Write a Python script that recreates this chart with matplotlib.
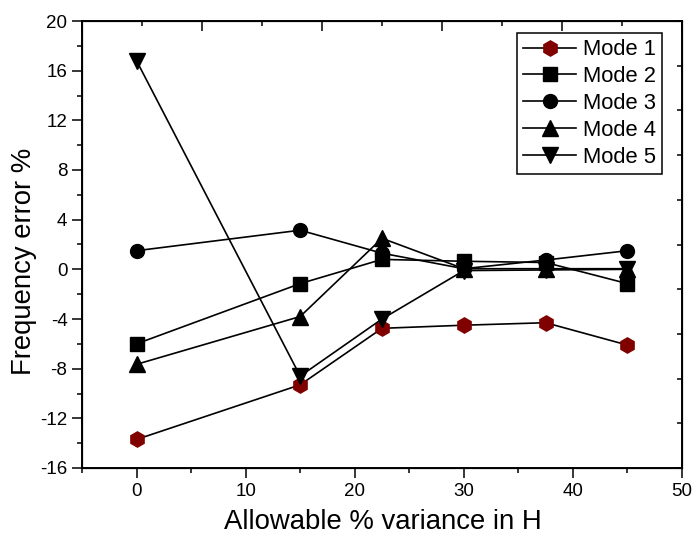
import matplotlib
matplotlib.use("Agg")
import matplotlib.pyplot as plt
from matplotlib.ticker import MultipleLocator

plt.rcParams['font.family'] = ['Liberation Sans', 'DejaVu Sans']
plt.rcParams['axes.unicode_minus'] = False

x = [0, 15, 22.5, 30, 37.5, 45]
mode1 = [-13.7, -9.3, -4.75, -4.5, -4.3, -6.1]
mode2 = [-6.0, -1.15, 0.8, 0.65, 0.55, -1.15]
mode3 = [1.5, 3.15, 1.3, 0.05, 0.75, 1.5]
mode4 = [-7.65, -3.8, 2.5, 0.05, 0.05, 0.05]
mode5 = [16.8, -8.6, -4.0, -0.1, -0.05, 0.0]
labels = ["Mode 1", "Mode 2", "Mode 3", "Mode 4", "Mode 5"]

fig = plt.figure(figsize=(6.96, 5.36), dpi=100)
ax = fig.add_axes([82/696, 1-468/536, 600/696, 447/536])

series = [mode1, mode2, mode3, mode4, mode5]
markers = ['h', 's', 'o', '^', 'v']
colors = ['#800000', 'black', 'black', 'black', 'black']
sizes = [11, 9.5, 10, 11, 11]
for ys, m, c, s, lab in zip(series, markers, colors, sizes, labels):
    ax.plot(x, ys, color='black', lw=1.2, marker=m, markersize=s,
            markerfacecolor=c, markeredgecolor=c, label=lab)

ax.set_xlim(-5, 50)
ax.set_ylim(-16, 20)
ax.xaxis.set_major_locator(MultipleLocator(10))
ax.xaxis.set_minor_locator(MultipleLocator(5))
ax.yaxis.set_major_locator(MultipleLocator(4))
ax.yaxis.set_minor_locator(MultipleLocator(2))
ax.tick_params(which='both', direction='out', width=1.1, labelsize=13.5, pad=3.5)
ax.tick_params(which='major', length=7)
ax.tick_params(which='minor', length=3.5)
for sp in ax.spines.values():
    sp.set_linewidth(1.4)

ax.set_xlabel("Allowable % variance in H", fontsize=19.8)
ax.set_ylabel("Frequency error %", fontsize=19.8)
ax.xaxis.set_label_coords(0.501, -0.092)
ax.yaxis.set_label_coords(-0.075, 0.463)

# top / right inner ticks
axt = ax.twiny()
axt.set_xlim(0, 50)
axt.xaxis.set_major_locator(MultipleLocator(10))
axt.xaxis.set_minor_locator(MultipleLocator(5))
axt.tick_params(which='both', direction='in', labeltop=False, width=1.1)
axt.tick_params(which='major', length=7)
axt.tick_params(which='minor', length=3.5)
axr = ax.twinx()
axr.set_ylim(0, 20)
axr.yaxis.set_major_locator(MultipleLocator(4))
axr.yaxis.set_minor_locator(MultipleLocator(2))
axr.tick_params(which='both', direction='in', labelright=False, width=1.1, length=3.5)

leg = ax.legend(loc='upper right', bbox_to_anchor=(0.967, 0.973), fontsize=15.8,
                frameon=True, fancybox=False, edgecolor='black', framealpha=1,
                handlelength=2.4, borderpad=0.28, labelspacing=0.27, handletextpad=0.32,
                borderaxespad=0)
leg.get_frame().set_linewidth(1.1)
leg.set_zorder(10)
axt.set_zorder(0)
axr.set_zorder(0)
ax.set_zorder(1)
ax.patch.set_visible(False)

fig.savefig("out.png", dpi=100, facecolor='white')
